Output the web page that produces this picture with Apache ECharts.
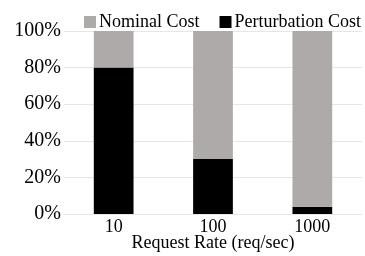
<!DOCTYPE html>
<html>
<head>
<meta charset="utf-8">
<script src="https://cdn.jsdelivr.net/npm/echarts@6/dist/echarts.min.js"></script>
<style>
  html, body { margin: 0; padding: 0; background: #fff; }
  #chart { width: 365px; height: 256px; }
</style>
</head>
<body>
<div id="chart"></div>
<script>
const categories = ['10', '100', '1000'];
const perturbationCost = [80, 30, 4];
const nominalCost = [20, 70, 96];
const yTicks = [0, 20, 40, 60, 80, 100];

const font = '"Liberation Serif", "DejaVu Serif", serif';
const chart = echarts.init(document.getElementById('chart'));

chart.setOption({
  animation: false,
  textStyle: { fontFamily: font },
  legend: {
    data: ['Nominal Cost', 'Perturbation Cost'],
    top: 8,
    left: 79,
    width: 300,
    itemWidth: 12,
    itemHeight: 12,
    itemGap: 20,
    icon: 'rect',
    textStyle: { fontFamily: font, fontSize: 18, color: '#000', padding: [0, 0, 0, -2] }
  },
  grid: { left: 64, right: 3, top: 31, bottom: 42, outerBoundsMode: 'none' },
  xAxis: {
    type: 'category',
    data: categories,
    name: 'Request Rate (req/sec)',
    nameLocation: 'middle',
    nameGap: 20,
    nameMoveOverlap: false,
    nameTextStyle: { fontFamily: font, fontSize: 18, color: '#000', verticalAlign: 'top' },
    axisLine: { show: false },
    axisTick: { show: false },
    axisLabel: { fontFamily: font, fontSize: 18, color: '#000', margin: 4 }
  },
  yAxis: {
    type: 'value',
    min: 0,
    max: 100,
    interval: 20,
    axisLine: { show: false },
    axisTick: { show: false },
    axisLabel: {
      fontFamily: font, fontSize: 20, color: '#000', margin: 3,
      formatter: v => yTicks.includes(v) ? v + '%' : ''
    },
    splitLine: { lineStyle: { color: '#e6e6e6', width: 1 } }
  },
  series: [
    {
      name: 'Perturbation Cost',
      type: 'bar',
      stack: 'total',
      data: perturbationCost,
      barWidth: '40%',
      itemStyle: { color: '#000' }
    },
    {
      name: 'Nominal Cost',
      type: 'bar',
      stack: 'total',
      data: nominalCost,
      barWidth: '40%',
      itemStyle: { color: '#aeaaaa' }
    }
  ]
});
</script>
</body>
</html>
